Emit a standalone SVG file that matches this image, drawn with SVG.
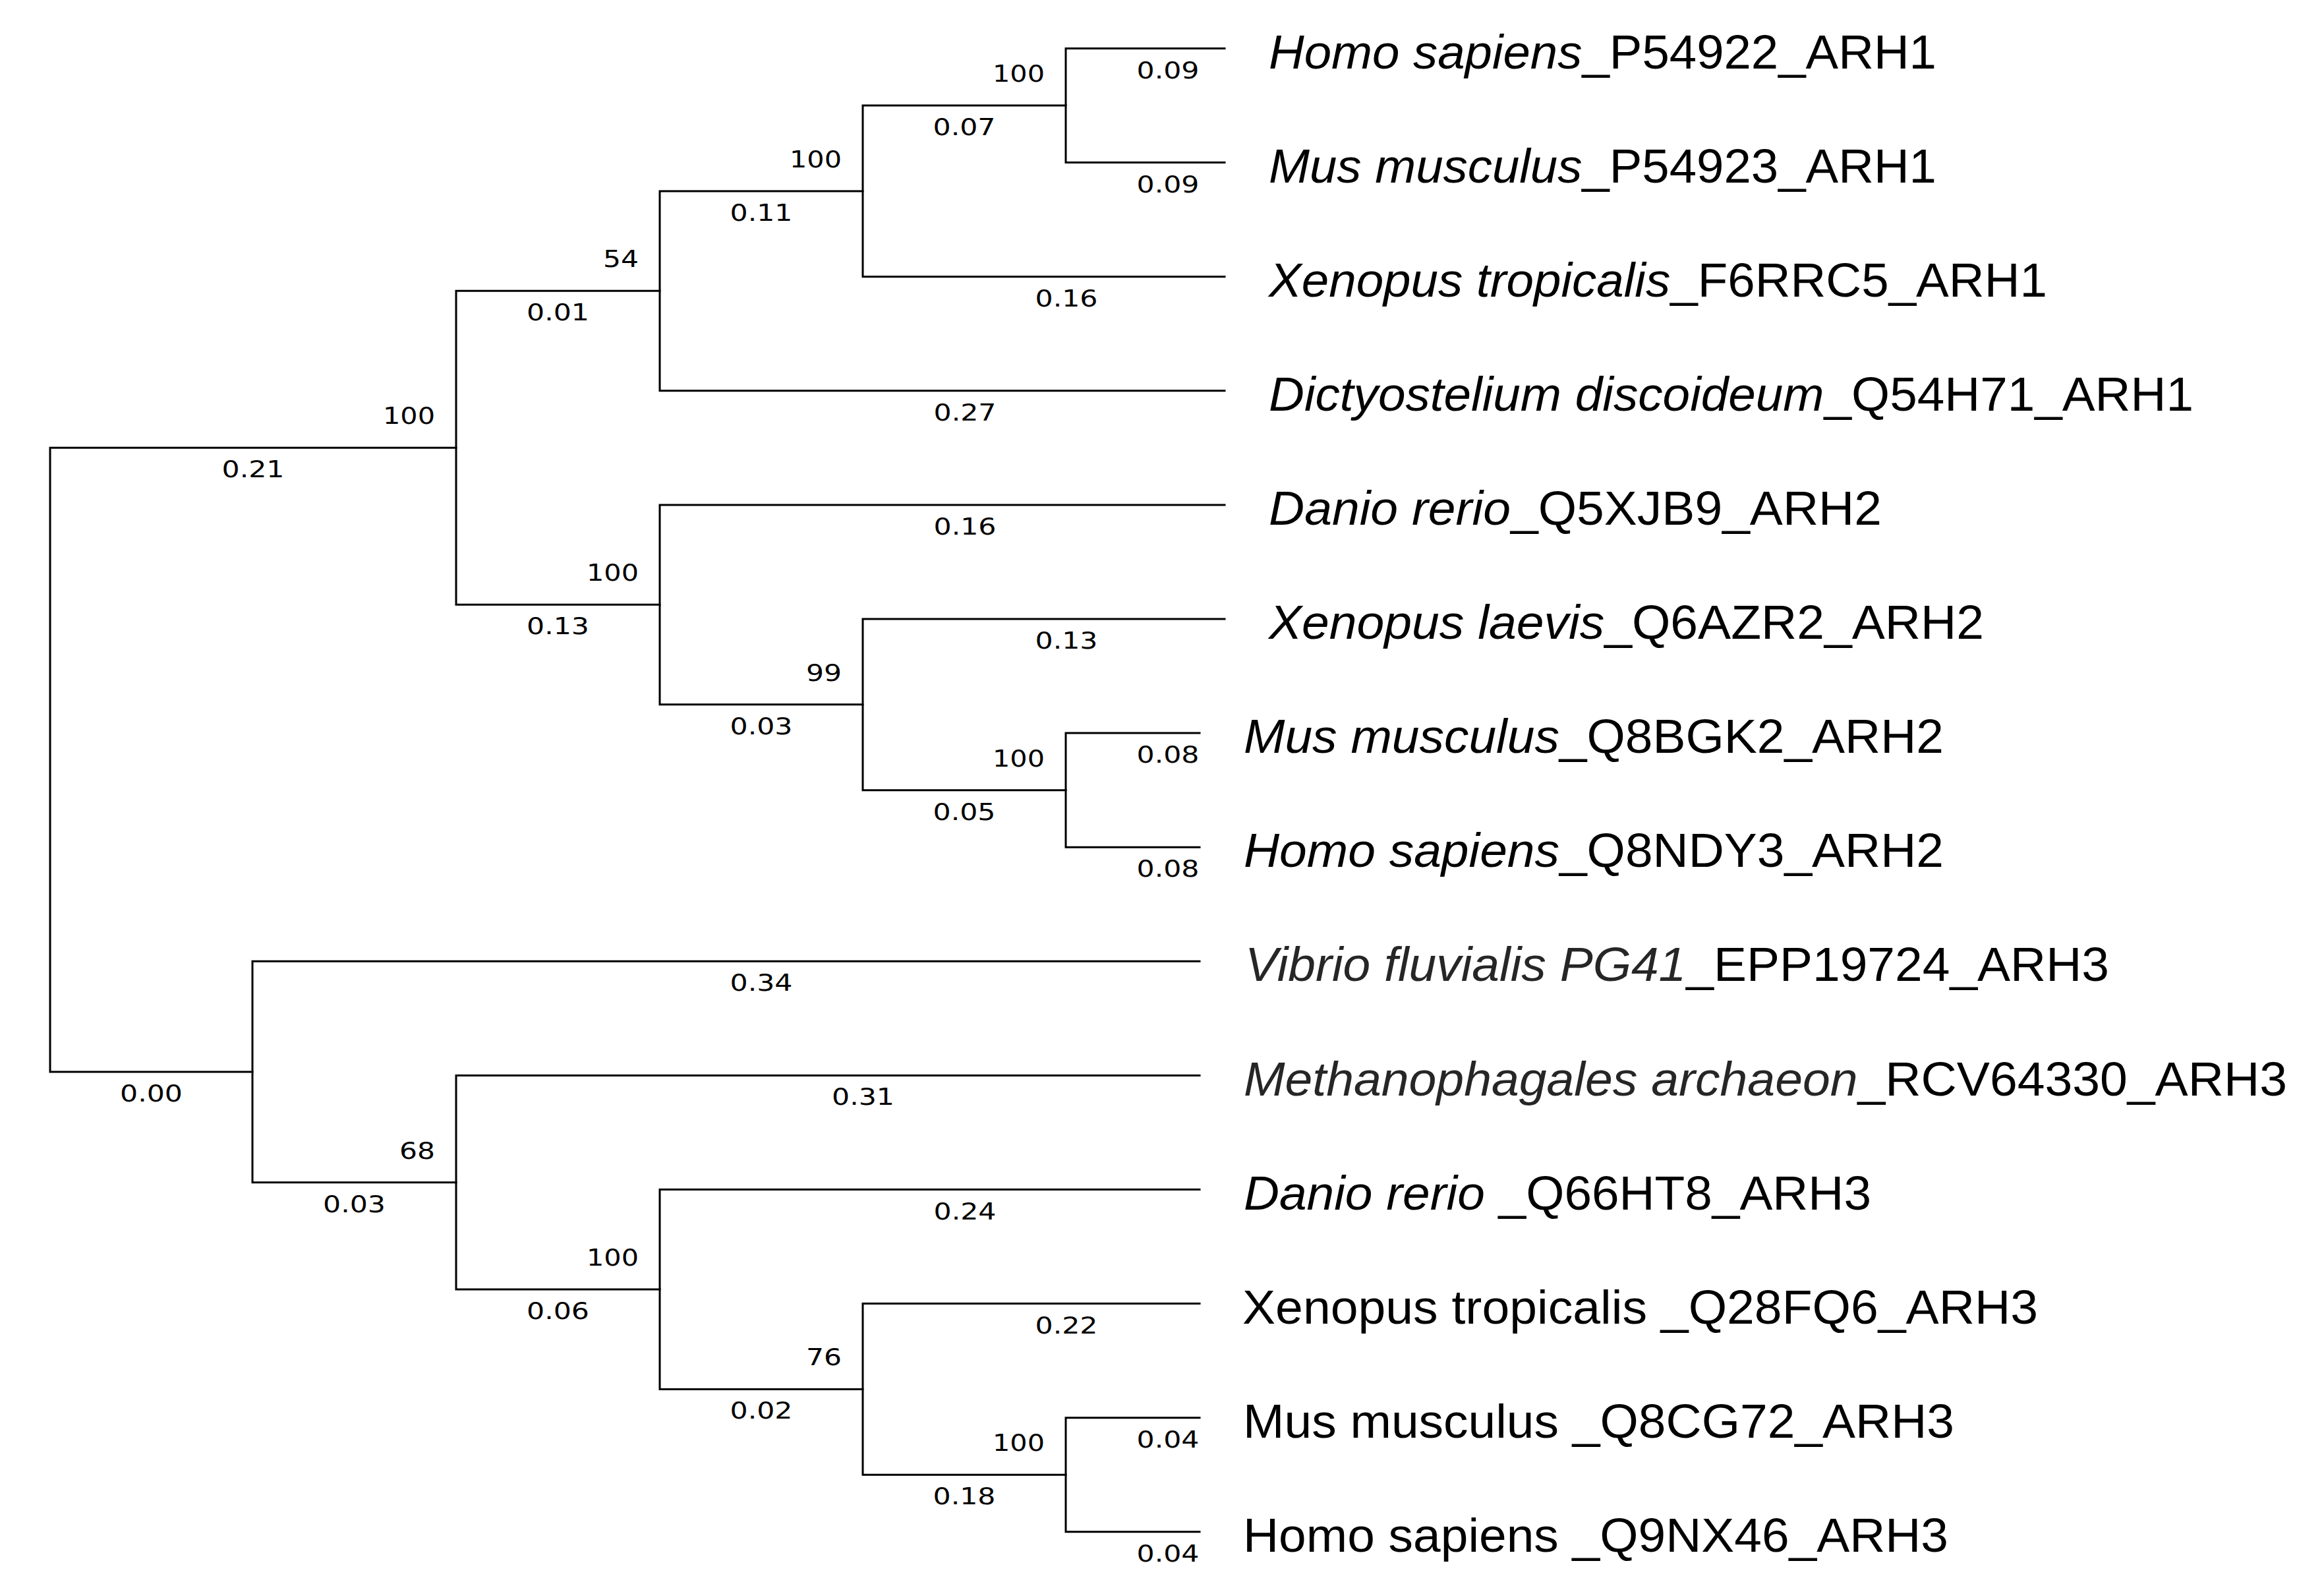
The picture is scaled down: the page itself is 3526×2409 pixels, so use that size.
<svg xmlns="http://www.w3.org/2000/svg" width="3526" height="2409" viewBox="0 0 3526 2409">
<style>
.br{fill:none;stroke:#000;stroke-width:3;stroke-linejoin:miter;stroke-linecap:square}
.bl{font-family:"DejaVu Sans","Verdana",sans-serif;font-size:35px;fill:#000;text-anchor:middle}
.bs{font-family:"DejaVu Sans","Verdana",sans-serif;font-size:35px;fill:#000;text-anchor:end}
.lf{font-family:"Liberation Sans",Arial,sans-serif;font-size:72px;fill:#000}
.it{font-style:italic}
.gr{fill:#262626}
</style>
<rect width="3526" height="2409" fill="#fff"/>
<g id="connectors">
<path class="br" d="M692 679.35 H76 V1626 H383"/>
<path class="br" d="M1001 441.35 H692 V917.35 H1001"/>
<path class="br" d="M1309 289.9 H1001 V592.8 H1858"/>
<path class="br" d="M1617 160.05 H1309 V419.7 H1858"/>
<path class="br" d="M1858 73.5 H1617 V246.6 H1858"/>
<path class="br" d="M1858 765.9 H1001 V1068.8 H1309"/>
<path class="br" d="M1858 939 H1309 V1198.65 H1617"/>
<path class="br" d="M1820 1112.1 H1617 V1285.2 H1820"/>
<path class="br" d="M1820 1458.3 H383 V1793.7 H692"/>
<path class="br" d="M1820 1631.4 H692 V1955.95 H1001"/>
<path class="br" d="M1820 1804.5 H1001 V2107.4 H1309"/>
<path class="br" d="M1820 1977.6 H1309 V2237.25 H1617"/>
<path class="br" d="M1820 2150.7 H1617 V2323.8 H1820"/>
</g>
<g id="branch-labels">
<text class="bl" x="384" y="724" textLength="95" lengthAdjust="spacingAndGlyphs">0.21</text>
<text class="bl" x="229.5" y="1671" textLength="95" lengthAdjust="spacingAndGlyphs">0.00</text>
<text class="bl" x="846.5" y="486" textLength="95" lengthAdjust="spacingAndGlyphs">0.01</text>
<text class="bl" x="1155" y="335" textLength="95" lengthAdjust="spacingAndGlyphs">0.11</text>
<text class="bl" x="1463" y="205" textLength="95" lengthAdjust="spacingAndGlyphs">0.07</text>
<text class="bl" x="1772" y="118.5" textLength="95" lengthAdjust="spacingAndGlyphs">0.09</text>
<text class="bl" x="1772" y="291.6" textLength="95" lengthAdjust="spacingAndGlyphs">0.09</text>
<text class="bl" x="1618" y="464.7" textLength="95" lengthAdjust="spacingAndGlyphs">0.16</text>
<text class="bl" x="1464" y="637.8" textLength="95" lengthAdjust="spacingAndGlyphs">0.27</text>
<text class="bl" x="846.5" y="962" textLength="95" lengthAdjust="spacingAndGlyphs">0.13</text>
<text class="bl" x="1464" y="811" textLength="95" lengthAdjust="spacingAndGlyphs">0.16</text>
<text class="bl" x="1155" y="1113.8" textLength="95" lengthAdjust="spacingAndGlyphs">0.03</text>
<text class="bl" x="1618" y="984" textLength="95" lengthAdjust="spacingAndGlyphs">0.13</text>
<text class="bl" x="1463" y="1243.6" textLength="95" lengthAdjust="spacingAndGlyphs">0.05</text>
<text class="bl" x="1772" y="1157" textLength="95" lengthAdjust="spacingAndGlyphs">0.08</text>
<text class="bl" x="1772" y="1330" textLength="95" lengthAdjust="spacingAndGlyphs">0.08</text>
<text class="bl" x="1155" y="1503" textLength="95" lengthAdjust="spacingAndGlyphs">0.34</text>
<text class="bl" x="537.5" y="1838.7" textLength="95" lengthAdjust="spacingAndGlyphs">0.03</text>
<text class="bl" x="1309.5" y="1676.4" textLength="95" lengthAdjust="spacingAndGlyphs">0.31</text>
<text class="bl" x="846.5" y="2001" textLength="95" lengthAdjust="spacingAndGlyphs">0.06</text>
<text class="bl" x="1464" y="1849.5" textLength="95" lengthAdjust="spacingAndGlyphs">0.24</text>
<text class="bl" x="1155" y="2152.4" textLength="95" lengthAdjust="spacingAndGlyphs">0.02</text>
<text class="bl" x="1618" y="2022.6" textLength="95" lengthAdjust="spacingAndGlyphs">0.22</text>
<text class="bl" x="1463" y="2282" textLength="95" lengthAdjust="spacingAndGlyphs">0.18</text>
<text class="bl" x="1772" y="2195.7" textLength="95" lengthAdjust="spacingAndGlyphs">0.04</text>
<text class="bl" x="1772" y="2368.8" textLength="95" lengthAdjust="spacingAndGlyphs">0.04</text>
</g>
<g id="node-G"><text class="bs" x="660" y="643" textLength="79" lengthAdjust="spacingAndGlyphs">100</text></g>
<g id="node-C"><text class="bs" x="969" y="405" textLength="54" lengthAdjust="spacingAndGlyphs">54</text></g>
<g id="node-B"><text class="bs" x="1277" y="254" textLength="79" lengthAdjust="spacingAndGlyphs">100</text></g>
<g id="node-A"><text class="bs" x="1585" y="124" textLength="79" lengthAdjust="spacingAndGlyphs">100</text></g>
<g id="node-F"><text class="bs" x="969" y="881" textLength="79" lengthAdjust="spacingAndGlyphs">100</text></g>
<g id="node-E"><text class="bs" x="1277" y="1033" textLength="54" lengthAdjust="spacingAndGlyphs">99</text></g>
<g id="node-D"><text class="bs" x="1585" y="1163" textLength="79" lengthAdjust="spacingAndGlyphs">100</text></g>
<g id="node-K"><text class="bs" x="660" y="1758" textLength="54" lengthAdjust="spacingAndGlyphs">68</text></g>
<g id="node-J"><text class="bs" x="969" y="1920" textLength="79" lengthAdjust="spacingAndGlyphs">100</text></g>
<g id="node-I"><text class="bs" x="1277" y="2071" textLength="54" lengthAdjust="spacingAndGlyphs">76</text></g>
<g id="node-H"><text class="bs" x="1585" y="2201" textLength="79" lengthAdjust="spacingAndGlyphs">100</text></g>
<g id="leaf-1"><text class="lf" x="1925" y="104" textLength="1013" lengthAdjust="spacingAndGlyphs"><tspan class="it">Homo sapiens</tspan>_P54922_ARH1</text></g>
<g id="leaf-2"><text class="lf" x="1925" y="277" textLength="1013" lengthAdjust="spacingAndGlyphs"><tspan class="it">Mus musculus</tspan>_P54923_ARH1</text></g>
<g id="leaf-3"><text class="lf" x="1925" y="450" textLength="1181" lengthAdjust="spacingAndGlyphs"><tspan class="it">Xenopus tropicalis</tspan>_F6RRC5_ARH1</text></g>
<g id="leaf-4"><text class="lf" x="1925" y="623" textLength="1403" lengthAdjust="spacingAndGlyphs"><tspan class="it">Dictyostelium discoideum</tspan>_Q54H71_ARH1</text></g>
<g id="leaf-5"><text class="lf" x="1925" y="796" textLength="930" lengthAdjust="spacingAndGlyphs"><tspan class="it">Danio rerio</tspan>_Q5XJB9_ARH2</text></g>
<g id="leaf-6"><text class="lf" x="1925" y="969" textLength="1085" lengthAdjust="spacingAndGlyphs"><tspan class="it">Xenopus laevis</tspan>_Q6AZR2_ARH2</text></g>
<g id="leaf-7"><text class="lf" x="1887" y="1142" textLength="1062" lengthAdjust="spacingAndGlyphs"><tspan class="it">Mus musculus</tspan>_Q8BGK2_ARH2</text></g>
<g id="leaf-8"><text class="lf" x="1887" y="1315" textLength="1062" lengthAdjust="spacingAndGlyphs"><tspan class="it">Homo sapiens</tspan>_Q8NDY3_ARH2</text></g>
<g id="leaf-9"><text class="lf" x="1889" y="1488" textLength="1311" lengthAdjust="spacingAndGlyphs"><tspan class="it gr">Vibrio fluvialis PG41</tspan>_EPP19724_ARH3</text></g>
<g id="leaf-10"><text class="lf" x="1887" y="1662" textLength="1583" lengthAdjust="spacingAndGlyphs"><tspan class="it gr">Methanophagales archaeon</tspan>_RCV64330_ARH3</text></g>
<g id="leaf-11"><text class="lf" x="1887" y="1835" textLength="952" lengthAdjust="spacingAndGlyphs"><tspan class="it">Danio rerio</tspan> _Q66HT8_ARH3</text></g>
<g id="leaf-12"><text class="lf" x="1885" y="2008" textLength="1207" lengthAdjust="spacingAndGlyphs">Xenopus tropicalis _Q28FQ6_ARH3</text></g>
<g id="leaf-13"><text class="lf" x="1886" y="2181" textLength="1079" lengthAdjust="spacingAndGlyphs">Mus musculus _Q8CG72_ARH3</text></g>
<g id="leaf-14"><text class="lf" x="1886" y="2354" textLength="1070" lengthAdjust="spacingAndGlyphs">Homo sapiens _Q9NX46_ARH3</text></g>
</svg>
